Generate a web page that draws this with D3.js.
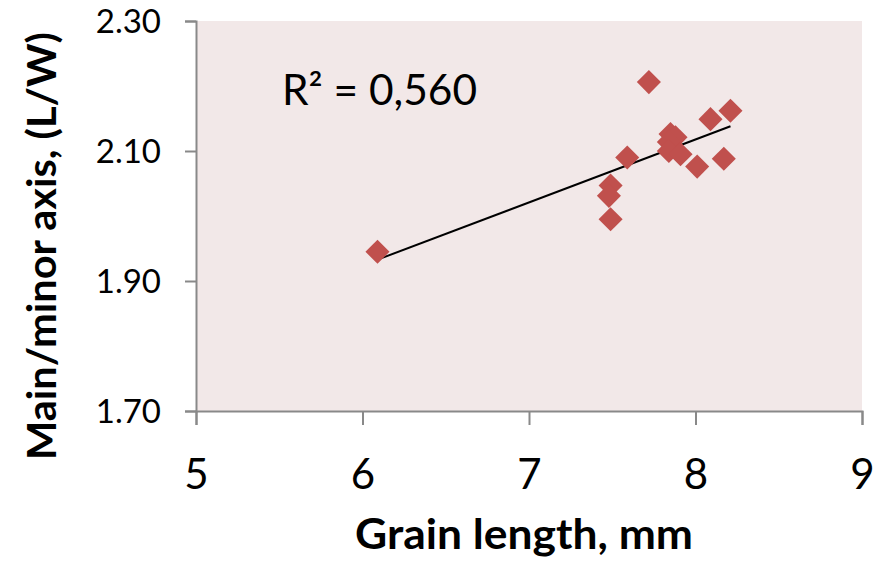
<!DOCTYPE html>
<html>
<head>
<meta charset="utf-8">
<script src="https://cdn.jsdelivr.net/npm/d3@7"></script>
<style>
  body { margin: 0; background: #fff; }
  text { font-family: Lato, "Open Sans", sans-serif; fill: #000; }
</style>
</head>
<body>
<div id="chart"></div>
<script>
// grain length (mm) vs main/minor axis ratio
var grainLength = [6.09, 7.72, 8.21, 8.09, 8.17, 8.01, 7.59, 7.49, 7.48, 7.49, 7.85, 7.88, 7.84, 7.84, 7.91];
var axisRatio   = [1.945, 2.206, 2.162, 2.149, 2.088, 2.076, 2.090, 2.047, 2.031, 1.995, 2.126, 2.121, 2.114, 2.100, 2.095];
var xTicks = [5, 6, 7, 8, 9];
var yTicks = [1.70, 1.90, 2.10, 2.30];
var r2Label = 'R\u00B2 = 0,560';
var xTitle = 'Grain length, mm';
var yTitle = 'Main/minor axis, (L/W)';

var W = 877, H = 564;
var svg = d3.select('#chart').append('svg')
  .attr('width', W).attr('height', H);

var x = d3.scaleLinear().domain([5, 9]).range([196, 862]);
var y = d3.scaleLinear().domain([1.70, 2.30]).range([411, 21]);

// plot area
svg.append('rect')
  .attr('x', x(5)).attr('y', y(2.30))
  .attr('width', x(9) - x(5)).attr('height', y(1.70) - y(2.30))
  .attr('fill', '#F2E8E8');

// axes
var gx = svg.append('g').attr('transform', 'translate(0,' + y(1.70) + ')')
  .call(d3.axisBottom(x).tickValues(xTicks).tickSize(14).tickSizeOuter(14).tickFormat(d3.format('d')));
var gy = svg.append('g').attr('transform', 'translate(' + x(5) + ',0)')
  .call(d3.axisLeft(y).tickValues(yTicks).tickSize(11).tickSizeOuter(11).tickFormat(d3.format('.2f')));

[gx, gy].forEach(function(g){
  g.selectAll('path, line').attr('stroke', '#898989').attr('stroke-width', 2);
});
gx.selectAll('text').attr('font-size', 42).attr('dy', 0).attr('y', 78)
  .style('font-family', 'Lato').attr('fill', '#000');
gy.selectAll('text').attr('font-size', 33).attr('x', -35).attr('dy', '0.36em')
  .style('font-family', 'Lato').attr('fill', '#000');

// trendline (least squares)
var mx = d3.mean(grainLength), my = d3.mean(axisRatio);
var sxy = d3.sum(grainLength, function(v, i){ return (v - mx) * (axisRatio[i] - my); });
var sxx = d3.sum(grainLength, function(v){ return (v - mx) * (v - mx); });
var slope = sxy / sxx, icpt = my - slope * mx;
var x0 = d3.min(grainLength), x1 = d3.max(grainLength);
svg.append('line')
  .attr('x1', x(x0)).attr('y1', y(icpt + slope * x0))
  .attr('x2', x(x1)).attr('y2', y(icpt + slope * x1))
  .attr('stroke', '#000').attr('stroke-width', 2);

// markers: rotated squares
var diamond = d3.symbol().type(d3.symbolSquare).size(290);
svg.selectAll('.pt').data(grainLength).enter().append('path')
  .attr('class', 'pt')
  .attr('d', diamond)
  .attr('transform', function(d, i){ return 'translate(' + x(d) + ',' + y(axisRatio[i]) + ') rotate(45)'; })
  .attr('fill', '#C0504D');

// R² label
svg.append('text')
  .attr('x', 282).attr('y', 105)
  .attr('font-size', 42)
  .attr('textLength', 195).attr('lengthAdjust', 'spacingAndGlyphs')
  .text(r2Label);

// axis titles
svg.append('text')
  .attr('x', 355).attr('y', 549)
  .attr('font-size', 42).attr('font-weight', 'bold')
  .attr('textLength', 338).attr('lengthAdjust', 'spacingAndGlyphs')
  .text(xTitle);

svg.append('text')
  .attr('transform', 'translate(56,460) rotate(-90)')
  .attr('font-size', 40).attr('font-weight', 'bold')
  .attr('textLength', 428).attr('lengthAdjust', 'spacingAndGlyphs')
  .text(yTitle);
</script>
</body>
</html>
